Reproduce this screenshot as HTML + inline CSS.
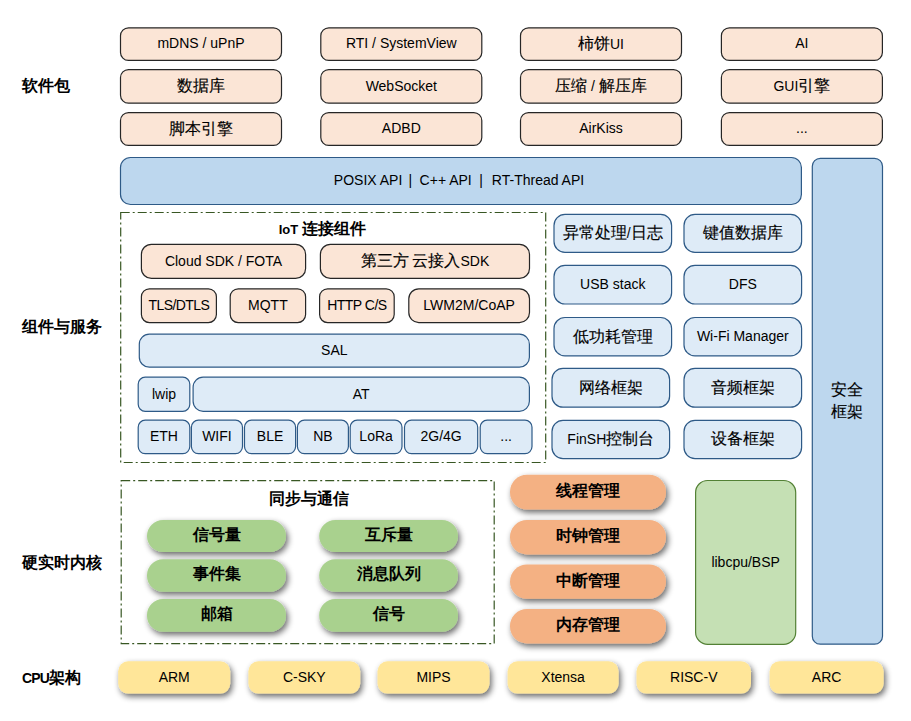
<!DOCTYPE html>
<html><head><meta charset="utf-8">
<style>
html,body{margin:0;padding:0;background:#fff;}
body{width:911px;height:721px;position:relative;overflow:hidden;font-family:"Liberation Sans",sans-serif;color:#000;}
svg{position:absolute;left:0;top:0;}
.t{position:absolute;display:flex;align-items:center;justify-content:center;font-size:14px;white-space:nowrap;line-height:1;}
.t>span{display:block;}
.c{font-size:16px;-webkit-text-stroke:0.15px #000;}
.pb .c,.ttl .c,.lab .c{-webkit-text-stroke:0;}
.sec{font-size:16px;line-height:22.4px;text-align:center;}
.ttl{font-weight:bold;font-size:15px;}
.pb{font-weight:bold;font-size:17px;}
.pb>span{position:relative;top:-1.5px;}
.lab{position:absolute;font-weight:bold;font-size:16px;line-height:20px;white-space:nowrap;}
</style></head><body>
<svg width="911" height="721" viewBox="0 0 911 721">
<defs>
<filter id="sh" x="-15%" y="-35%" width="135%" height="185%">
<feGaussianBlur in="SourceAlpha" stdDeviation="3"/>
<feOffset dx="2" dy="2.6" result="o"/>
<feComponentTransfer><feFuncA type="linear" slope="0.6"/></feComponentTransfer>
<feMerge><feMergeNode/><feMergeNode in="SourceGraphic"/></feMerge>
</filter>
</defs>
<rect x="120.5" y="27.8" width="161.00" height="32.60" rx="8" fill="#FBE5D6" stroke="#262626" stroke-width="1.2" />
<rect x="320.8" y="27.8" width="161.00" height="32.60" rx="8" fill="#FBE5D6" stroke="#262626" stroke-width="1.2" />
<rect x="520.5" y="27.8" width="161.00" height="32.60" rx="8" fill="#FBE5D6" stroke="#262626" stroke-width="1.2" />
<rect x="721.4" y="27.8" width="161.00" height="32.60" rx="8" fill="#FBE5D6" stroke="#262626" stroke-width="1.2" />
<rect x="120.5" y="69.6" width="161.00" height="33.60" rx="8" fill="#FBE5D6" stroke="#262626" stroke-width="1.2" />
<rect x="320.8" y="69.6" width="161.00" height="33.60" rx="8" fill="#FBE5D6" stroke="#262626" stroke-width="1.2" />
<rect x="520.5" y="69.6" width="161.00" height="33.60" rx="8" fill="#FBE5D6" stroke="#262626" stroke-width="1.2" />
<rect x="721.4" y="69.6" width="161.00" height="33.60" rx="8" fill="#FBE5D6" stroke="#262626" stroke-width="1.2" />
<rect x="120.5" y="112.6" width="161.00" height="32.80" rx="8" fill="#FBE5D6" stroke="#262626" stroke-width="1.2" />
<rect x="320.8" y="112.6" width="161.00" height="32.80" rx="8" fill="#FBE5D6" stroke="#262626" stroke-width="1.2" />
<rect x="520.5" y="112.6" width="161.00" height="32.80" rx="8" fill="#FBE5D6" stroke="#262626" stroke-width="1.2" />
<rect x="721.4" y="112.6" width="161.00" height="32.80" rx="8" fill="#FBE5D6" stroke="#262626" stroke-width="1.2" />
<rect x="120.5" y="157.5" width="680.90" height="47.00" rx="10" fill="#BDD7EE" stroke="#2E5A87" stroke-width="1.2" />
<rect x="812.3" y="158.3" width="70.20" height="485.90" rx="8" fill="#BDD7EE" stroke="#2E5A87" stroke-width="1.2" />
<rect x="120.7" y="212.5" width="425" height="250" fill="none" stroke="#385723" stroke-width="1.2" stroke-dasharray="9 3 2 3"/>
<rect x="141.4" y="244.3" width="164.20" height="34.10" rx="10" fill="#FBE5D6" stroke="#262626" stroke-width="1.2" />
<rect x="320.4" y="244.3" width="209.10" height="34.10" rx="10" fill="#FBE5D6" stroke="#262626" stroke-width="1.2" />
<rect x="141.4" y="288.8" width="75.00" height="33.80" rx="8" fill="#FBE5D6" stroke="#262626" stroke-width="1.2" />
<rect x="230.2" y="288.8" width="75.40" height="33.80" rx="8" fill="#FBE5D6" stroke="#262626" stroke-width="1.2" />
<rect x="319.6" y="288.8" width="74.60" height="33.80" rx="8" fill="#FBE5D6" stroke="#262626" stroke-width="1.2" />
<rect x="408.8" y="288.8" width="120.70" height="33.80" rx="10" fill="#FBE5D6" stroke="#262626" stroke-width="1.2" />
<rect x="139.3" y="334.2" width="390.10" height="33.00" rx="10" fill="#DEEBF7" stroke="#2E5A87" stroke-width="1.2" />
<rect x="138.2" y="377.2" width="51.60" height="34.10" rx="7" fill="#DEEBF7" stroke="#2E5A87" stroke-width="1.2" />
<rect x="193.1" y="377.2" width="336.30" height="34.10" rx="10" fill="#DEEBF7" stroke="#2E5A87" stroke-width="1.2" />
<rect x="138.2" y="420.2" width="51.60" height="33.40" rx="7" fill="#DEEBF7" stroke="#2E5A87" stroke-width="1.2" />
<rect x="191.4" y="420.2" width="51.10" height="33.40" rx="7" fill="#DEEBF7" stroke="#2E5A87" stroke-width="1.2" />
<rect x="244.5" y="420.2" width="51.10" height="33.40" rx="7" fill="#DEEBF7" stroke="#2E5A87" stroke-width="1.2" />
<rect x="297.4" y="420.2" width="51.00" height="33.40" rx="7" fill="#DEEBF7" stroke="#2E5A87" stroke-width="1.2" />
<rect x="350.2" y="420.2" width="51.80" height="33.40" rx="7" fill="#DEEBF7" stroke="#2E5A87" stroke-width="1.2" />
<rect x="404.5" y="420.2" width="73.20" height="33.40" rx="7" fill="#DEEBF7" stroke="#2E5A87" stroke-width="1.2" />
<rect x="480.2" y="420.2" width="51.80" height="33.40" rx="7" fill="#DEEBF7" stroke="#2E5A87" stroke-width="1.2" />
<rect x="554" y="214.4" width="117.60" height="38.00" rx="11" fill="#DEEBF7" stroke="#2E5A87" stroke-width="1.2" />
<rect x="684" y="214.4" width="117.60" height="38.00" rx="11" fill="#DEEBF7" stroke="#2E5A87" stroke-width="1.2" />
<rect x="554" y="265.4" width="117.60" height="38.60" rx="11" fill="#DEEBF7" stroke="#2E5A87" stroke-width="1.2" />
<rect x="684" y="265.4" width="117.60" height="38.60" rx="11" fill="#DEEBF7" stroke="#2E5A87" stroke-width="1.2" />
<rect x="554" y="317.5" width="117.60" height="38.40" rx="11" fill="#DEEBF7" stroke="#2E5A87" stroke-width="1.2" />
<rect x="684" y="317.5" width="117.60" height="38.40" rx="11" fill="#DEEBF7" stroke="#2E5A87" stroke-width="1.2" />
<rect x="552" y="368.4" width="117.60" height="38.80" rx="11" fill="#DEEBF7" stroke="#2E5A87" stroke-width="1.2" />
<rect x="684" y="368.4" width="117.60" height="38.80" rx="11" fill="#DEEBF7" stroke="#2E5A87" stroke-width="1.2" />
<rect x="552" y="420.4" width="117.60" height="38.20" rx="11" fill="#DEEBF7" stroke="#2E5A87" stroke-width="1.2" />
<rect x="684" y="420.4" width="117.60" height="38.20" rx="11" fill="#DEEBF7" stroke="#2E5A87" stroke-width="1.2" />
<rect x="121.2" y="480.6" width="373" height="163" fill="none" stroke="#385723" stroke-width="1.2" stroke-dasharray="9 3 2 3"/>
<rect x="147" y="520" width="139.00" height="32.00" rx="16" fill="#A9D18E" stroke="none" stroke-width="0" filter="url(#sh)"/>
<rect x="319.2" y="520" width="138.80" height="32.00" rx="16" fill="#A9D18E" stroke="none" stroke-width="0" filter="url(#sh)"/>
<rect x="147" y="559.2" width="139.00" height="32.60" rx="16" fill="#A9D18E" stroke="none" stroke-width="0" filter="url(#sh)"/>
<rect x="319.2" y="559.2" width="138.80" height="32.60" rx="16" fill="#A9D18E" stroke="none" stroke-width="0" filter="url(#sh)"/>
<rect x="147" y="599" width="139.00" height="32.80" rx="16" fill="#A9D18E" stroke="none" stroke-width="0" filter="url(#sh)"/>
<rect x="319.2" y="599" width="138.80" height="32.80" rx="16" fill="#A9D18E" stroke="none" stroke-width="0" filter="url(#sh)"/>
<rect x="510" y="474.8" width="156.00" height="34.80" rx="17" fill="#F4B183" stroke="none" stroke-width="0" filter="url(#sh)"/>
<rect x="510" y="520" width="156.00" height="34.40" rx="17" fill="#F4B183" stroke="none" stroke-width="0" filter="url(#sh)"/>
<rect x="510" y="564.4" width="156.00" height="34.40" rx="17" fill="#F4B183" stroke="none" stroke-width="0" filter="url(#sh)"/>
<rect x="510" y="609" width="156.00" height="34.40" rx="17" fill="#F4B183" stroke="none" stroke-width="0" filter="url(#sh)"/>
<rect x="695.6" y="480.5" width="100.10" height="163.80" rx="12" fill="#C5E0B4" stroke="#538135" stroke-width="1.2" />
<rect x="118.2" y="661.2" width="112.00" height="32.40" rx="10" fill="#FFE699" stroke="none" stroke-width="0" filter="url(#sh)"/>
<rect x="248.4" y="661.2" width="111.80" height="32.40" rx="10" fill="#FFE699" stroke="none" stroke-width="0" filter="url(#sh)"/>
<rect x="377.5" y="661.2" width="112.00" height="32.40" rx="10" fill="#FFE699" stroke="none" stroke-width="0" filter="url(#sh)"/>
<rect x="507.6" y="661.2" width="111.00" height="32.40" rx="10" fill="#FFE699" stroke="none" stroke-width="0" filter="url(#sh)"/>
<rect x="636.5" y="661.2" width="114.50" height="32.40" rx="10" fill="#FFE699" stroke="none" stroke-width="0" filter="url(#sh)"/>
<rect x="769.6" y="661.2" width="114.00" height="32.40" rx="10" fill="#FFE699" stroke="none" stroke-width="0" filter="url(#sh)"/>
</svg>
<div class="t" style="left:120.5px;top:27.2px;width:161.00px;height:32.60px;"><span>mDNS / uPnP</span></div>
<div class="t" style="left:320.8px;top:27.2px;width:161.00px;height:32.60px;"><span>RTI / SystemView</span></div>
<div class="t" style="left:520.5px;top:27.8px;width:161.00px;height:32.60px;"><span><span class="c">柿饼</span>UI</span></div>
<div class="t" style="left:721.4px;top:27.2px;width:161.00px;height:32.60px;"><span>AI</span></div>
<div class="t" style="left:120.5px;top:69.6px;width:161.00px;height:33.60px;"><span><span class="c">数据库</span></span></div>
<div class="t" style="left:320.8px;top:69.0px;width:161.00px;height:33.60px;"><span>WebSocket</span></div>
<div class="t" style="left:520.5px;top:69.6px;width:161.00px;height:33.60px;"><span><span class="c">压缩</span> / <span class="c">解压库</span></span></div>
<div class="t" style="left:721.4px;top:69.6px;width:161.00px;height:33.60px;"><span>GUI<span class="c">引擎</span></span></div>
<div class="t" style="left:120.5px;top:112.6px;width:161.00px;height:32.80px;"><span><span class="c">脚本引擎</span></span></div>
<div class="t" style="left:320.8px;top:112.0px;width:161.00px;height:32.80px;"><span>ADBD</span></div>
<div class="t" style="left:520.5px;top:112.0px;width:161.00px;height:32.80px;"><span>AirKiss</span></div>
<div class="t" style="left:721.4px;top:112.0px;width:161.00px;height:32.80px;"><span>...</span></div>
<div class="t" style="left:308.1px;top:156.9px;width:120.00px;height:47.00px;"><span>POSIX API</span></div>
<div class="t" style="left:350.3px;top:156.9px;width:120.00px;height:47.00px;"><span>|</span></div>
<div class="t" style="left:385.7px;top:156.9px;width:120.00px;height:47.00px;"><span>C++ API</span></div>
<div class="t" style="left:421px;top:156.9px;width:120.00px;height:47.00px;"><span>|</span></div>
<div class="t" style="left:478px;top:156.9px;width:120.00px;height:47.00px;"><span>RT-Thread API</span></div>
<div class="t sec" style="left:812.3px;top:371px;width:70.20px;height:60.00px;"><span><span class="c">安全</span><br><span class="c">框架</span></span></div>
<div class="t ttl" style="left:98.7px;top:217px;width:447.00px;height:24.00px;"><span><span style="font-size:13px">IoT </span><span class="c">连接组件</span></span></div>
<div class="t" style="left:141.4px;top:243.70000000000002px;width:164.20px;height:34.10px;"><span>Cloud SDK / FOTA</span></div>
<div class="t" style="left:320.4px;top:244.3px;width:209.10px;height:34.10px;"><span><span class="c">第三方</span> <span class="c">云接入</span>SDK</span></div>
<div class="t" style="left:141.4px;top:288.2px;width:75.00px;height:33.80px;letter-spacing:-0.6px"><span>TLS/DTLS</span></div>
<div class="t" style="left:230.2px;top:288.2px;width:75.40px;height:33.80px;"><span>MQTT</span></div>
<div class="t" style="left:319.6px;top:288.2px;width:74.60px;height:33.80px;letter-spacing:-0.5px"><span>HTTP C/S</span></div>
<div class="t" style="left:408.8px;top:288.2px;width:120.70px;height:33.80px;"><span>LWM2M/CoAP</span></div>
<div class="t" style="left:139.3px;top:333.59999999999997px;width:390.10px;height:33.00px;"><span>SAL</span></div>
<div class="t" style="left:138.2px;top:376.59999999999997px;width:51.60px;height:34.10px;"><span>lwip</span></div>
<div class="t" style="left:193.1px;top:376.59999999999997px;width:336.30px;height:34.10px;"><span>AT</span></div>
<div class="t" style="left:138.2px;top:419.59999999999997px;width:51.60px;height:33.40px;"><span>ETH</span></div>
<div class="t" style="left:191.4px;top:419.59999999999997px;width:51.10px;height:33.40px;"><span>WIFI</span></div>
<div class="t" style="left:244.5px;top:419.59999999999997px;width:51.10px;height:33.40px;"><span>BLE</span></div>
<div class="t" style="left:297.4px;top:419.59999999999997px;width:51.00px;height:33.40px;"><span>NB</span></div>
<div class="t" style="left:350.2px;top:419.59999999999997px;width:51.80px;height:33.40px;"><span>LoRa</span></div>
<div class="t" style="left:404.5px;top:419.59999999999997px;width:73.20px;height:33.40px;"><span>2G/4G</span></div>
<div class="t" style="left:480.2px;top:419.59999999999997px;width:51.80px;height:33.40px;"><span>...</span></div>
<div class="t" style="left:554px;top:214.4px;width:117.60px;height:38.00px;"><span><span class="c">异常处理</span>/<span class="c">日志</span></span></div>
<div class="t" style="left:684px;top:214.4px;width:117.60px;height:38.00px;"><span><span class="c">键值数据库</span></span></div>
<div class="t" style="left:554px;top:264.79999999999995px;width:117.60px;height:38.60px;"><span>USB stack</span></div>
<div class="t" style="left:684px;top:264.79999999999995px;width:117.60px;height:38.60px;"><span>DFS</span></div>
<div class="t" style="left:554px;top:317.5px;width:117.60px;height:38.40px;"><span><span class="c">低功耗管理</span></span></div>
<div class="t" style="left:684px;top:316.9px;width:117.60px;height:38.40px;"><span>Wi-Fi Manager</span></div>
<div class="t" style="left:552px;top:368.4px;width:117.60px;height:38.80px;"><span><span class="c">网络框架</span></span></div>
<div class="t" style="left:684px;top:368.4px;width:117.60px;height:38.80px;"><span><span class="c">音频框架</span></span></div>
<div class="t" style="left:552px;top:420.4px;width:117.60px;height:38.20px;"><span>FinSH<span class="c">控制台</span></span></div>
<div class="t" style="left:684px;top:420.4px;width:117.60px;height:38.20px;"><span><span class="c">设备框架</span></span></div>
<div class="t ttl" style="left:124.2px;top:487px;width:370.00px;height:24.00px;"><span><span class="c">同步与通信</span></span></div>
<div class="t pb" style="left:147px;top:520px;width:139.00px;height:32.00px;"><span><span class="c">信号量</span></span></div>
<div class="t pb" style="left:319.2px;top:520px;width:138.80px;height:32.00px;"><span><span class="c">互斥量</span></span></div>
<div class="t pb" style="left:147px;top:559.2px;width:139.00px;height:32.60px;"><span><span class="c">事件集</span></span></div>
<div class="t pb" style="left:319.2px;top:559.2px;width:138.80px;height:32.60px;"><span><span class="c">消息队列</span></span></div>
<div class="t pb" style="left:147px;top:599px;width:139.00px;height:32.80px;"><span><span class="c">邮箱</span></span></div>
<div class="t pb" style="left:319.2px;top:599px;width:138.80px;height:32.80px;"><span><span class="c">信号</span></span></div>
<div class="t pb" style="left:510px;top:474.8px;width:156.00px;height:34.80px;"><span><span class="c">线程管理</span></span></div>
<div class="t pb" style="left:510px;top:520px;width:156.00px;height:34.40px;"><span><span class="c">时钟管理</span></span></div>
<div class="t pb" style="left:510px;top:564.4px;width:156.00px;height:34.40px;"><span><span class="c">中断管理</span></span></div>
<div class="t pb" style="left:510px;top:609px;width:156.00px;height:34.40px;"><span><span class="c">内存管理</span></span></div>
<div class="t" style="left:695.6px;top:479.9px;width:100.10px;height:163.80px;"><span>libcpu/BSP</span></div>
<div class="t" style="left:118.2px;top:660.6px;width:112.00px;height:32.40px;"><span>ARM</span></div>
<div class="t" style="left:248.4px;top:660.6px;width:111.80px;height:32.40px;"><span>C-SKY</span></div>
<div class="t" style="left:377.5px;top:660.6px;width:112.00px;height:32.40px;"><span>MIPS</span></div>
<div class="t" style="left:507.6px;top:660.6px;width:111.00px;height:32.40px;"><span>Xtensa</span></div>
<div class="t" style="left:636.5px;top:660.6px;width:114.50px;height:32.40px;"><span>RISC-V</span></div>
<div class="t" style="left:769.6px;top:660.6px;width:114.00px;height:32.40px;"><span>ARC</span></div>
<div class="lab" style="left:22px;top:76px">软件包</div>
<div class="lab" style="left:22px;top:317px">组件与服务</div>
<div class="lab" style="left:22px;top:553px">硬实时内核</div>
<div class="lab" style="left:22px;top:668px"><span style="font-size:14px;letter-spacing:-0.9px">CPU</span>架构</div>
</body></html>
